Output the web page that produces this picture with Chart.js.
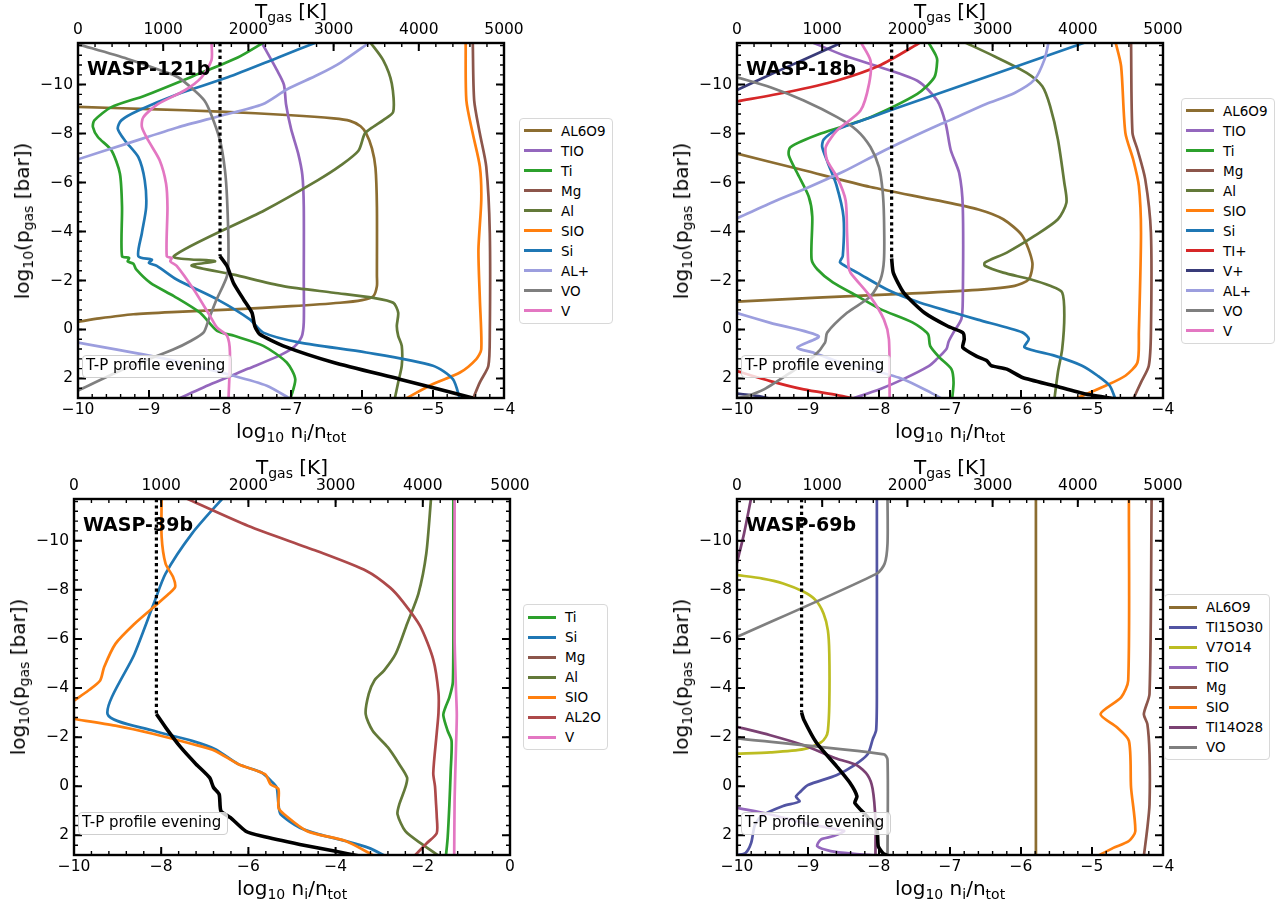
<!DOCTYPE html>
<html>
<head>
<meta charset="utf-8">
<script src="https://cdn.jsdelivr.net/npm/chart.js@4.4.0/dist/chart.umd.min.js"></script>
<style>
  body { margin: 0; width: 1281px; height: 908px; position: relative; overflow: hidden; background: #fff;
         font-family: 'DejaVu Sans', sans-serif; color: #000; }
  canvas { position: absolute; }
  .ttl { position: absolute; font-size: 20px; line-height: 20px; white-space: nowrap; }
  .sub { font-size: 0.7em; position: relative; top: 0.32em; }
  .planet { position: absolute; font-size: 19px; line-height: 19px; font-weight: bold; white-space: nowrap; }
  .tpbox { position: absolute; box-sizing: border-box; width: 150px; height: 23px; border: 1px solid #cfcfcf;
           border-radius: 4px; background: rgba(255,255,255,0.8); font-size: 15px; line-height: 19px;
           padding-left: 3px; white-space: nowrap; }
  .leg { position: absolute; transform: translateY(-50%); border: 1px solid #d8d8d8; border-radius: 4px;
         background: #fff; padding: 2px 6px 2px 4px; font-size: 13.5px; }
  .row { height: 20px; line-height: 20px; white-space: nowrap; }
  .hd { display: inline-block; width: 28px; height: 3px; vertical-align: middle; margin-right: 9px;
        position: relative; top: -1px; }
</style>
</head>
<body>
<script>
'use strict';

// ---------- tick labels ----------
const yTicks = [-10, -8, -6, -4, -2, 0, 2];
const tTicks = [0, 1000, 2000, 3000, 4000, 5000];
const xTicksA = [-10, -9, -8, -7, -6, -5, -4];
const xTicksB = [-10, -8, -6, -4, -2, 0];

// ---------- WASP-121b : [log10 n/ntot, log10 p] ----------
const w121_AL6O9 = [[-10,-9.09],[-9,-9.0],[-8,-8.9],[-7,-8.75],[-6.4,-8.62],[-6.17,-8.52],[-6.02,-8.3],[-5.94,-8.0],[-5.86,-7.4],[-5.81,-6.6],[-5.79,-5],[-5.79,-2.2],[-5.79,-1.77],[-5.84,-1.36],[-6.0,-1.2],[-6.31,-1.09],[-7.0,-0.95],[-7.81,-0.82],[-8.6,-0.72],[-9.22,-0.62],[-9.7,-0.45],[-10,-0.31]];
const w121_TIO = [[-7.42,-11.75],[-7.2,-10.6],[-7.1,-10],[-7.07,-9.2],[-7.0,-8.2],[-6.9,-7.2],[-6.84,-6.3],[-6.82,-5],[-6.82,-2],[-6.82,-0.3],[-6.85,0.3],[-6.95,0.7],[-7.15,1.05],[-7.6,1.6],[-8.1,2.2],[-8.6,2.85]];
const w121_Ti = [[-7.37,-11.75],[-7.75,-11.11],[-8.36,-10.37],[-9.06,-9.55],[-9.53,-9.08],[-9.77,-8.54],[-9.79,-8.27],[-9.72,-7.86],[-9.53,-7.32],[-9.41,-6.37],[-9.38,-5.0],[-9.38,-2.99],[-9.28,-2.92],[-9.3,-2.78],[-9.22,-2.68],[-9.18,-2.45],[-8.98,-1.9],[-8.65,-1.36],[-8.28,-0.68],[-8.04,0.06],[-7.8,0.26],[-7.39,0.67],[-7.06,1.35],[-6.94,2.03],[-7.01,2.85]];
const w121_Mg = [[-4.44,-11.75],[-4.42,-9.36],[-4.34,-8.0],[-4.25,-6.65],[-4.2,-3.94],[-4.2,0.13],[-4.22,1.48],[-4.34,2.16],[-4.44,2.85]];
const w121_Al = [[-5.89,-11.75],[-5.7,-10.99],[-5.58,-10.04],[-5.56,-8.89],[-5.7,-8.55],[-5.84,-8.28],[-5.96,-8.0],[-6.05,-7.3],[-6.3,-6.7],[-6.62,-6.1],[-7.37,-4.87],[-8.65,-2.99],[-8.07,-2.79],[-8.4,-2.61],[-7.81,-2.24],[-7.11,-1.77],[-6.4,-1.5],[-5.84,-1.29],[-5.56,-1.09],[-5.49,-0.68],[-5.51,-0.14],[-5.49,0.26],[-5.44,0.67],[-5.44,1.48],[-5.49,2.16],[-5.54,2.85]];
const w121_SIO = [[-4.54,-11.75],[-4.53,-9.36],[-4.44,-8.0],[-4.34,-6.65],[-4.32,-5.3],[-4.36,-3.26],[-4.34,-1.23],[-4.32,0.81],[-4.39,1.21],[-4.62,1.76],[-5.0,2.23],[-5.4,2.85]];
const w121_Si = [[-6.62,-11.75],[-7.18,-11.11],[-7.89,-10.3],[-8.59,-9.62],[-9.15,-8.94],[-9.39,-8.54],[-9.44,-8.2],[-9.34,-7.72],[-9.15,-7.04],[-9.06,-6.09],[-9.04,-5.0],[-9.1,-3.94],[-9.15,-2.99],[-8.96,-2.85],[-9.0,-2.72],[-8.89,-2.6],[-8.61,-2.04],[-8.04,-1.23],[-7.58,-0.41],[-7.39,0.13],[-6.87,0.54],[-5.94,0.94],[-5.0,1.48],[-4.72,2.03],[-4.62,2.85]];
const w121_ALp = [[-10,-6.95],[-9.3,-7.6],[-8.6,-8.25],[-8.0,-8.72],[-7.4,-9.2],[-7.06,-9.8],[-6.62,-10.4],[-6.3,-10.9],[-5.88,-11.75],null,[-10,0.54],[-8.75,1.21],[-7.81,1.89],[-7.34,2.3],[-7.0,2.85]];
const w121_VO = [[-10,-11.65],[-9.3,-11.05],[-8.82,-10.57],[-8.59,-10.3],[-8.36,-9.76],[-8.22,-9.35],[-8.13,-8.82],[-8.0,-7.72],[-7.93,-6.5],[-7.9,-5.3],[-7.88,-3.2],[-7.9,-2.2],[-8.05,-1.21],[-8.16,-0.4],[-8.23,0.12],[-8.4,0.45],[-8.66,0.82],[-9.36,1.63],[-10,2.5]];
const w121_V = [[-8.12,-11.75],[-8.12,-11.0],[-8.26,-10.3],[-8.5,-9.76],[-8.87,-9.21],[-9.08,-8.67],[-9.1,-8.27],[-9.01,-7.72],[-8.85,-6.91],[-8.76,-5.96],[-8.74,-5.0],[-8.75,-2.99],[-8.68,-2.92],[-8.7,-2.78],[-8.61,-2.6],[-8.37,-1.63],[-8.14,-0.55],[-8.04,-0.07],[-7.9,0.26],[-7.86,0.94],[-7.88,2.85]];
// T-P profile : [T gas (K), log10 p]
const w121_TP = [[1667,-2.99],[1750,-2.58],[1825,-1.9],[1942,-1.23],[2042,-0.68],[2075,-0.14],[2133,0.2],[2408,0.67],[3000,1.35],[3775,2.03],[4633,2.8]];
const w121_TPdot = [[1667,-11.7],[1667,-2.99]];

// ---------- WASP-18b ----------
const w18_AL6O9 = [[-10,-7.18],[-9.06,-6.5],[-8.12,-5.82],[-7.18,-5.27],[-6.6,-4.9],[-6.25,-4.5],[-5.98,-3.82],[-5.84,-2.73],[-5.89,-2.05],[-6.09,-1.78],[-6.61,-1.62],[-7.76,-1.44],[-8.87,-1.3],[-10,-1.14]];
const w18_TIO = [[-8.96,-11.75],[-8.5,-11.2],[-8.12,-10.84],[-7.46,-10.16],[-7.18,-9.35],[-7.06,-8.4],[-6.99,-7.33],[-6.87,-6.38],[-6.82,-5.0],[-6.82,-1.2],[-6.84,-0.42],[-6.95,0.12],[-7.02,0.5],[-7.05,0.8],[-7.2,1.25],[-7.3,1.5],[-7.65,2.02],[-7.98,2.43],[-8.4,2.85]];
const w18_Ti = [[-7.31,-11.75],[-7.2,-11.2],[-7.18,-10.98],[-7.22,-10.3],[-7.46,-9.62],[-8.12,-8.67],[-8.82,-8.0],[-9.25,-7.44],[-9.27,-7.11],[-9.15,-6.38],[-8.99,-5.43],[-8.94,-4.61],[-8.95,-2.87],[-8.87,-2.46],[-8.65,-1.92],[-8.31,-1.37],[-7.98,-0.83],[-7.53,-0.29],[-7.31,0.19],[-7.28,0.67],[-7.15,1.14],[-6.98,1.62],[-6.95,2.16],[-6.97,2.85]];
const w18_Mg = [[-4.45,-11.75],[-4.43,-8.03],[-4.36,-7.35],[-4.25,-6.13],[-4.17,-3.95],[-4.17,0.12],[-4.2,1.48],[-4.31,2.16],[-4.42,2.85]];
const w18_Al = [[-6.81,-11.75],[-6.37,-11.15],[-5.92,-10.48],[-5.7,-9.93],[-5.59,-9.12],[-5.48,-7.76],[-5.39,-5.99],[-5.36,-5.18],[-5.48,-4.5],[-5.81,-3.82],[-6.2,-3.14],[-6.51,-2.73],[-6.51,-2.6],[-6.25,-2.32],[-5.87,-2.05],[-5.59,-1.78],[-5.42,-1.51],[-5.39,-0.56],[-5.42,0.8],[-5.48,1.75],[-5.53,2.85]];
const w18_SIO = [[-4.67,-11.75],[-4.59,-10.75],[-4.53,-8.03],[-4.42,-6.94],[-4.34,-5.86],[-4.31,-3.95],[-4.34,0.12],[-4.36,1.35],[-4.53,1.89],[-4.81,2.3],[-5.25,2.85]];
const w18_Si = [[-5.07,-11.75],[-6.4,-10.4],[-7.84,-8.95],[-8.3,-8.47],[-8.6,-8.15],[-8.78,-7.75],[-8.8,-7.45],[-8.72,-6.8],[-8.6,-5.9],[-8.5,-4.6],[-8.51,-3.0],[-8.55,-2.75],[-8.48,-2.6],[-8.3,-2.31],[-7.88,-1.62],[-7.42,-1.09],[-6.94,-0.68],[-6.61,-0.4],[-5.98,0.12],[-5.89,0.39],[-5.95,0.73],[-5.53,1.07],[-5.14,1.48],[-4.92,1.89],[-4.75,2.3],[-4.67,2.85]];
const w18_TIp = [[-10,-9.31],[-9.3,-9.69],[-8.6,-10.16],[-8.0,-10.77],[-7.4,-11.75],null,[-10,1.7],[-9.53,2.11],[-9.06,2.45],[-8.59,2.68],[-8.3,2.85]];
const w18_Vp = [[-10,-9.78],[-9.5,-10.45],[-9.0,-11.1],[-8.5,-11.75],null,[-10,2.62],[-9.7,2.72],[-9.5,2.85]];
const w18_ALp = [[-10,-4.54],[-9.5,-5.2],[-9.0,-5.8],[-8.5,-6.45],[-8.0,-7.2],[-7.5,-7.9],[-7.2,-8.3],[-7.0,-8.55],[-6.5,-9.2],[-6.09,-9.66],[-5.81,-10.2],[-5.67,-11.02],[-5.61,-11.75],null,[-10,-0.67],[-9.53,-0.27],[-8.85,0.28],[-9.15,0.74],[-8.92,0.95],[-8.59,1.3],[-8.12,1.64],[-7.65,2.04],[-7.27,2.58],[-7.1,2.85]];
const w18_VO = [[-10,-10.3],[-9.53,-9.89],[-9.06,-9.35],[-8.59,-8.67],[-8.31,-8.13],[-8.12,-7.45],[-8.0,-6.63],[-7.95,-5.68],[-7.93,-4.6],[-7.93,-2.84],[-7.98,-2.03],[-8.12,-1.35],[-8.45,-0.68],[-8.73,0.13],[-8.76,0.54],[-8.92,1.1],[-9.25,1.77],[-9.62,2.45],[-9.86,2.72],[-10,2.8]];
const w18_V = [[-8.26,-11.75],[-8.12,-10.98],[-8.14,-10.03],[-8.26,-8.94],[-8.59,-8.13],[-8.75,-7.45],[-8.73,-6.9],[-8.59,-6.22],[-8.47,-5.27],[-8.45,-3.95],[-8.43,-2.6],[-8.4,-2.31],[-8.12,-1.33],[-7.93,-0.4],[-7.86,0.41],[-7.85,2.85]];
const w18_TP = [[1815,-2.9],[1835,-2.31],[1958,-1.49],[2200,-0.68],[2475,-0.13],[2650,0.13],[2667,0.4],[2650,0.74],[2808,1.09],[2933,1.28],[2983,1.48],[3167,1.62],[3350,1.96],[3725,2.3],[4092,2.64],[4467,2.85]];
const w18_TPdot = [[1815,-11.7],[1815,-2.9]];

// ---------- WASP-39b ----------
const w39_Ti = [[-1.3,-11.75],[-1.3,-8.12],[-1.31,-4.25],[-1.39,-3.62],[-1.48,-3.22],[-1.53,-2.9],[-1.43,-2.26],[-1.34,-1.85],[-1.36,-0.63],[-1.39,0.74],[-1.43,2.1],[-1.47,2.85]];
const w39_Si = [[-6.58,-11.75],[-7.29,-10.3],[-7.9,-8.66],[-8.17,-7.44],[-8.61,-5.4],[-9.23,-2.94],[-8.17,-2.26],[-7.29,-1.85],[-6.76,-1.51],[-6.23,-0.9],[-5.7,-0.56],[-5.44,-0.15],[-5.35,0.05],[-5.31,0.74],[-5.26,1.14],[-4.82,1.69],[-4.38,1.96],[-3.77,2.23],[-3.24,2.51],[-2.85,2.85]];
const w39_Mg = [];
const w39_Al = [[-1.81,-11.75],[-1.92,-9.48],[-2.1,-7.85],[-2.36,-6.62],[-2.62,-5.4],[-2.89,-4.71],[-3.11,-4.31],[-3.24,-3.76],[-3.31,-2.94],[-3.15,-2.26],[-2.8,-1.58],[-2.54,-0.9],[-2.36,-0.35],[-2.4,0.05],[-2.54,0.74],[-2.58,1.14],[-2.4,1.83],[-2.01,2.37],[-1.62,2.85]];
const w39_SIO = [[-7.99,-11.75],[-7.99,-10.16],[-7.9,-9.07],[-7.73,-8.53],[-7.68,-8.12],[-7.82,-7.85],[-8.17,-7.3],[-8.61,-6.62],[-9.05,-5.8],[-9.31,-4.85],[-9.4,-4.31],[-9.67,-3.9],[-10,-3.49],null,[-10,-2.74],[-9.05,-2.47],[-8.17,-2.13],[-7.29,-1.72],[-6.76,-1.44],[-6.23,-0.9],[-5.62,-0.49],[-5.49,-0.08],[-5.31,0.12],[-5.31,0.87],[-5.18,1.14],[-4.65,1.83],[-3.77,2.23],[-3.1,2.85]];
const w39_AL2O = [[-7.46,-11.75],[-6.0,-10.6],[-4.43,-9.58],[-3.29,-8.77],[-2.75,-8.09],[-2.45,-7.5],[-2.06,-6.52],[-1.76,-5.16],[-1.64,-3.8],[-1.64,-3.0],[-1.68,-2.17],[-1.76,-0.54],[-1.72,0.0],[-1.7,0.6],[-1.68,1.23],[-1.68,1.91],[-1.91,2.32],[-2.2,2.85]];
const w39_V = [[-1.27,-11.75],[-1.27,-6],[-1.24,-4],[-1.22,-2.9],[-1.24,-1.5],[-1.27,0.5],[-1.28,2.85]];
const w39_TP = [[945,-2.94],[1050,-2.4],[1225,-1.58],[1400,-0.9],[1555,-0.35],[1600,0.05],[1665,0.33],[1685,1.01],[1795,1.28],[1970,1.83],[2150,2.03],[2590,2.37],[2985,2.64],[3290,2.85]];
const w39_TPdot = [[945,-11.7],[945,-2.94]];

// ---------- WASP-69b ----------
const w69_AL6O9 = [[-5.79,-11.75],[-5.79,2.85]];
const w69_TI15O30 = [[-8.03,-11.75],[-8.03,-4],[-8.04,-2.3],[-8.09,-1.9],[-8.16,-1.3],[-8.35,-0.85],[-8.6,-0.45],[-9.0,-0.05],[-9.1,0.2],[-9.17,0.42],[-9.12,0.62],[-9.35,0.8],[-9.65,1.2],[-9.75,1.6],[-9.8,2.3],[-9.88,2.72],[-10,2.8]];
const w69_V7O14 = [[-10,-8.6],[-9.64,-8.46],[-9.35,-8.26],[-9.06,-7.92],[-8.89,-7.57],[-8.78,-7.03],[-8.72,-6.35],[-8.7,-5.4],[-8.7,-3.35],[-8.72,-2.26],[-8.75,-2.0],[-8.82,-1.78],[-9.06,-1.51],[-9.53,-1.38],[-10,-1.33]];
const w69_TIO = [[-10,0.88],[-9.53,1.15],[-9.06,1.49],[-8.59,1.76],[-8.49,1.83],[-8.64,2.03],[-8.82,2.17],[-8.87,2.44],[-8.68,2.64],[-8.35,2.75],[-8.0,2.82]];
const w69_Mg = [[-4.16,-11.75],[-4.19,-3.76],[-4.27,-2.94],[-4.22,-2.53],[-4.19,-1.31],[-4.19,0.74],[-4.22,1.69],[-4.27,2.85]];
const w69_SIO = [[-4.48,-11.75],[-4.49,-4.31],[-4.59,-3.62],[-4.88,-2.94],[-4.65,-2.4],[-4.48,-1.85],[-4.45,0.05],[-4.39,1.83],[-4.48,2.23],[-4.7,2.51],[-4.93,2.85]];
const w69_TI14O28 = [[-9.8,-11.75],[-9.9,-10.3],[-10,-9.1],null,[-10,-2.42],[-9.53,-2.08],[-9.06,-1.67],[-8.59,-1.12],[-8.31,-0.85],[-8.16,-0.45],[-8.09,0.1],[-8.05,1.4],[-8.05,2.85]];
const w69_VO = [[-7.88,-11.75],[-7.88,-9.89],[-7.92,-9.07],[-8.03,-8.66],[-10,-6.08],null,[-10,-1.95],[-7.93,-1.3],[-7.88,-1.08],[-7.88,2.85]];
const w69_TP = [[758,-3.0],[783,-2.72],[933,-1.77],[1167,-0.82],[1325,-0.14],[1408,0.41],[1383,0.68],[1525,1.22],[1642,1.77],[1658,2.44],[1717,2.74],[1783,2.85]];
const w69_TPdot = [[758,-11.7],[758,-3.0]];

// ---------- styles ----------
const COLORS = {
  AL6O9: '#8c6d31', TIO: '#9467bd', Ti: '#2ca02c', Mg: '#8c564b', Al: '#637939', SIO: '#ff7f0e',
  Si: '#1f77b4', 'AL+': '#9c9ede', VO: '#7f7f7f', V: '#e377c2', 'TI+': '#d62728', 'V+': '#393b79',
  AL2O: '#ad494a', TI15O30: '#5254a3', V7O14: '#bcbd22', TI14O28: '#7b4173'
};
const FONT = 'DejaVu Sans';

const panels = [
  { name: 'WASP-121b', rect: [78, 43, 504, 398], xr: [-10, -4], xt: xTicksA, xMinor: 0.2, legX: 519,
    series: [['AL6O9', w121_AL6O9], ['TIO', w121_TIO], ['Ti', w121_Ti], ['Mg', w121_Mg], ['Al', w121_Al],
             ['SIO', w121_SIO], ['Si', w121_Si], ['AL+', w121_ALp], ['VO', w121_VO], ['V', w121_V]],
    tp: w121_TP, tpDot: w121_TPdot },
  { name: 'WASP-18b', rect: [737, 43, 1163, 398], xr: [-10, -4], xt: xTicksA, xMinor: 0.2, legX: 1181,
    series: [['AL6O9', w18_AL6O9], ['TIO', w18_TIO], ['Ti', w18_Ti], ['Mg', w18_Mg], ['Al', w18_Al],
             ['SIO', w18_SIO], ['Si', w18_Si], ['TI+', w18_TIp], ['V+', w18_Vp], ['AL+', w18_ALp],
             ['VO', w18_VO], ['V', w18_V]],
    tp: w18_TP, tpDot: w18_TPdot },
  { name: 'WASP-39b', rect: [74, 499, 510, 855], xr: [-10, 0], xt: xTicksB, xMinor: 0.4, legX: 523,
    series: [['Ti', w39_Ti], ['Si', w39_Si], ['Mg', w39_Mg], ['Al', w39_Al], ['SIO', w39_SIO],
             ['AL2O', w39_AL2O], ['V', w39_V]],
    tp: w39_TP, tpDot: w39_TPdot },
  { name: 'WASP-69b', rect: [737, 499, 1163, 855], xr: [-10, -4], xt: xTicksA, xMinor: 0.2, legX: 1164,
    series: [['AL6O9', w69_AL6O9], ['TI15O30', w69_TI15O30], ['V7O14', w69_V7O14], ['TIO', w69_TIO],
             ['Mg', w69_Mg], ['SIO', w69_SIO], ['TI14O28', w69_TI14O28], ['VO', w69_VO]],
    tp: w69_TP, tpDot: w69_TPdot }
];

const toPts = arr => arr.map(p => p ? { x: p[0], y: p[1] } : { x: null, y: null });
const minus = v => String(v).replace('-', '\u2212');

// inward ticks on all four sides + the frame, drawn over the lines
const frameTicks = {
  id: 'frameTicks',
  afterDatasetsDraw(chart, args, o) {
    const { ctx, chartArea: a } = chart;
    const sx = chart.scales.x, sy = chart.scales.y, st = chart.scales.x2;
    const steps = (min, max, step) => {
      const out = [];
      for (let k = Math.ceil(min / step - 1e-6); k * step <= max + 1e-6; k++) out.push(k * step);
      return out;
    };
    const draw = (len, width, xs, ts, ys) => {
      ctx.lineWidth = width;
      ctx.beginPath();
      xs.forEach(v => { const p = sx.getPixelForValue(v); ctx.moveTo(p, a.bottom); ctx.lineTo(p, a.bottom - len); });
      ts.forEach(v => { const p = st.getPixelForValue(v); ctx.moveTo(p, a.top); ctx.lineTo(p, a.top + len); });
      ys.forEach(v => {
        const p = sy.getPixelForValue(v);
        ctx.moveTo(a.left, p); ctx.lineTo(a.left + len, p);
        ctx.moveTo(a.right, p); ctx.lineTo(a.right - len, p);
      });
      ctx.stroke();
    };
    ctx.save();
    ctx.strokeStyle = '#000';
    draw(4, 1.4, steps(sx.min, sx.max, o.xMinor), steps(st.min, st.max, 200), steps(sy.min, sy.max, 0.4));
    draw(8, 2, o.xt, tTicks, yTicks);
    ctx.lineWidth = 2.4;
    ctx.strokeRect(a.left, a.top, a.right - a.left, a.bottom - a.top);
    ctx.restore();
  }
};

function addDiv(cls, html, css) {
  const d = document.createElement('div');
  d.className = cls;
  d.innerHTML = html;
  Object.assign(d.style, css);
  document.body.appendChild(d);
  return d;
}

function makePanel(p) {
  const [L, T, R, B] = p.rect;
  const padL = 64, padT = 36, padR = 28, padB = 34;
  const cv = document.createElement('canvas');
  cv.width = (R - L) + padL + padR;
  cv.height = (B - T) + padT + padB;
  cv.style.left = (L - padL) + 'px';
  cv.style.top = (T - padT) + 'px';
  document.body.appendChild(cv);

  const n = p.series.length;
  const datasets = p.series.map(([name, arr], i) => ({
    data: toPts(arr), borderColor: COLORS[name], borderWidth: 2.7, xAxisID: 'x', yAxisID: 'y',
    order: n - i + 1, tension: 0.25
  }));
  datasets.push({ data: toPts(p.tp), borderColor: '#000', borderWidth: 3.6, xAxisID: 'x2', yAxisID: 'y', order: 0, tension: 0.2 });
  datasets.push({ data: toPts(p.tpDot), borderColor: '#000', borderWidth: 3.2, borderDash: [3.2, 3.2], xAxisID: 'x2', yAxisID: 'y', order: 0 });

  const tickFont = { family: FONT, size: 15.5 };
  new Chart(cv, {
    type: 'line',
    data: { datasets },
    options: {
      responsive: false, animation: false, devicePixelRatio: 1, events: [],
      layout: { padding: { left: 0, top: 0, right: padR, bottom: 0 } },
      elements: { point: { radius: 0 }, line: { borderJoinStyle: 'round', borderCapStyle: 'butt' } },
      plugins: { legend: { display: false }, tooltip: { enabled: false }, frameTicks: { xMinor: p.xMinor, xt: p.xt } },
      scales: {
        x: { type: 'linear', position: 'bottom', min: p.xr[0], max: p.xr[1],
             afterBuildTicks: s => { s.ticks = p.xt.map(v => ({ value: v })); },
             afterFit: s => { s.height = padB; },
             grid: { display: false, drawTicks: false }, border: { display: false },
             ticks: { font: tickFont, color: '#000', padding: 3, maxRotation: 0, callback: minus } },
        x2: { type: 'linear', position: 'top', min: 0, max: 5000,
              afterBuildTicks: s => { s.ticks = tTicks.map(v => ({ value: v })); },
              afterFit: s => { s.height = padT; },
              grid: { display: false, drawTicks: false }, border: { display: false },
              ticks: { font: tickFont, color: '#000', padding: 4, maxRotation: 0, callback: v => String(v) } },
        y: { type: 'linear', position: 'left', reverse: true, min: -11.7, max: 2.8,
             afterBuildTicks: s => { s.ticks = yTicks.map(v => ({ value: v })); },
             afterFit: s => { s.width = padL; },
             grid: { display: false, drawTicks: false }, border: { display: false },
             ticks: { font: tickFont, color: '#000', padding: 5, callback: minus } }
      }
    },
    plugins: [frameTicks]
  });

  const cx = (L + R) / 2, cy = (T + B) / 2;
  addDiv('ttl', 'T<span class="sub">gas</span> [K]', { left: cx + 'px', top: (T - 42) + 'px', transform: 'translateX(-50%)' });
  addDiv('ttl', 'log<span class="sub">10</span> n<span class="sub">i</span>/n<span class="sub">tot</span>',
         { left: cx + 'px', top: (B + 23) + 'px', transform: 'translateX(-50%)' });
  addDiv('ttl', 'log<span class="sub">10</span>(p<span class="sub">gas</span> [bar])',
         { left: (L - 55) + 'px', top: cy + 'px', transform: 'translate(-50%,-50%) rotate(-90deg)' });
  addDiv('planet', p.name, { left: (L + 9) + 'px', top: (T + 16) + 'px' });
  addDiv('tpbox', 'T-P profile evening', { left: (L + 4) + 'px', top: (B - 43) + 'px' });
  addDiv('leg', p.series.map(([name]) =>
    `<div class="row"><span class="hd" style="background:${COLORS[name]}"></span>${name}</div>`).join(''),
    { left: p.legX + 'px', top: cy + 'px' });
}

panels.forEach(makePanel);
</script>
</body>
</html>
